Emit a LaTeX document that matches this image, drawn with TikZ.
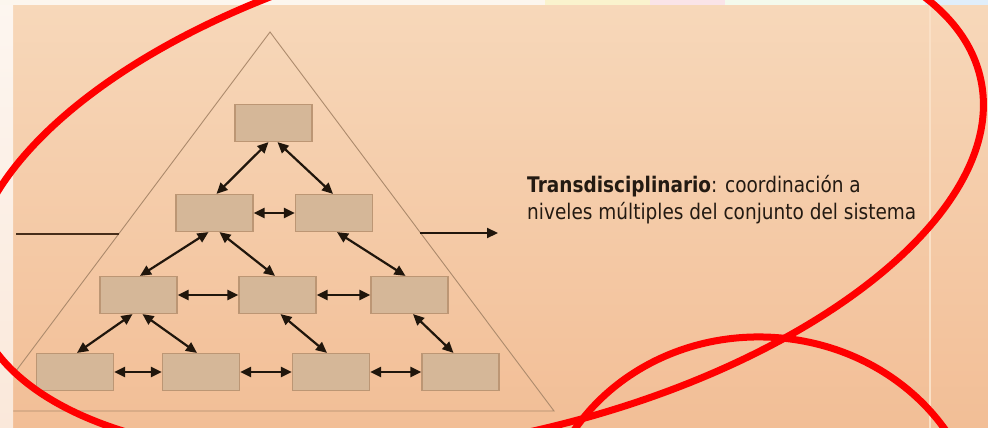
\documentclass[tikz,border=0pt]{standalone}
\usepackage{fontspec}
\newfontfamily\tfont[FakeStretch=0.86]{DejaVu Sans}
\usetikzlibrary{arrows.meta}
\definecolor{bgtop}{RGB}{247,216,186}
\definecolor{bgbot}{RGB}{242,190,150}
\definecolor{stripA}{RGB}{253,246,240}
\definecolor{stripB}{RGB}{250,232,218}
\definecolor{boxfill}{RGB}{213,183,152}
\definecolor{boxline}{RGB}{188,150,116}
\definecolor{triline}{RGB}{172,138,108}
\definecolor{arrowcol}{RGB}{32,22,12}
\definecolor{linecol}{RGB}{70,45,25}
\definecolor{txtcol}{RGB}{35,26,18}
\definecolor{annot}{RGB}{255,0,0}
\definecolor{topA}{RGB}{252,246,238}
\definecolor{topY}{RGB}{250,243,205}
\definecolor{topP}{RGB}{250,228,232}
\definecolor{topG}{RGB}{244,250,236}
\definecolor{topB}{RGB}{224,238,250}
\definecolor{seam}{RGB}{250,224,198}
\begin{document}
\begin{tikzpicture}[x=1pt,y=-1pt,
  box/.style={draw=boxline, fill=boxfill, line width=1.2pt, minimum width=77pt, minimum height=37pt, inner sep=0pt},
  link/.style={draw=arrowcol, line width=2.2pt, {Triangle[length=11pt,width=10pt]}-{Triangle[length=11pt,width=10pt]}},
  tri/.style={draw=triline, line width=0.9pt},
  redpen/.style={draw=annot, line width=7pt},
  txt/.style={text=txtcol, inner sep=0pt, anchor=base west, font=\tfont\fontsize{21.5}{26}\selectfont}
]
\useasboundingbox (0,0) rectangle (988,428);
% background
\shade[top color=bgtop, bottom color=bgbot] (0,0) rectangle (988,428);
\draw[seam, line width=1.5pt] (930,0) -- (930,428);
% triangle
\coordinate (apex) at (270,32);
\coordinate (bl) at (-14,411);
\coordinate (br) at (554,411);
\draw[tri] (apex) -- (br) -- (bl) -- cycle;
% left strip and top strip
\shade[top color=stripA, bottom color=stripB] (0,0) rectangle (13,428);
\fill[topA] (0,0) rectangle (545,5);
\fill[topY] (545,0) rectangle (650,5);
\fill[topP] (650,0) rectangle (725,5);
\fill[topG] (725,0) rectangle (925,5);
\fill[topB] (925,0) rectangle (988,5);
% boxes
\node[box] (T)  at (273.5,123) {};
\node[box] (A1) at (214.5,213) {};
\node[box] (A2) at (334,213) {};
\node[box] (B1) at (138.5,295) {};
\node[box] (B2) at (277.5,295) {};
\node[box] (B3) at (409.5,295) {};
\node[box] (C1) at (75,372) {};
\node[box] (C2) at (201,372) {};
\node[box] (C3) at (331,372) {};
\node[box] (C4) at (460.5,372) {};
% vertical links
\draw[link] ([xshift=-5pt]T.south) -- ([xshift=2pt]A1.north);
\draw[link] ([xshift=4pt]T.south) -- ([xshift=-1pt]A2.north);
\draw[link] ([xshift=-6pt]A1.south) -- ([xshift=1.5pt]B1.north);
\draw[link] ([xshift=5pt]A1.south) -- ([xshift=-2.5pt]B2.north);
\draw[link] ([xshift=3pt]A2.south) -- ([xshift=-4pt]B3.north);
\draw[link] ([xshift=-6pt]B1.south) -- ([xshift=2pt]C1.north);
\draw[link] ([xshift=4pt]B1.south) -- ([xshift=-4pt]C2.north);
\draw[link] ([xshift=3pt]B2.south) -- ([xshift=-4pt]C3.north);
\draw[link] ([xshift=3.5pt]B3.south) -- ([xshift=-7pt]C4.north);
% horizontal links
\draw[link] (A1.east) -- (A2.west);
\draw[link] (B1.east) -- (B2.west);
\draw[link] (B2.east) -- (B3.west);
\draw[link] (C1.east) -- (C2.west);
\draw[link] (C2.east) -- (C3.west);
\draw[link] (C3.east) -- (C4.west);
% side lines
\coordinate (L1) at (16,234);
\coordinate (L2) at (119,234);
\draw[linecol, line width=2.6pt] (L1) -- (L2);
\coordinate (R1) at (420,233);
\coordinate (R2) at (498,233);
\draw[arrowcol, line width=2.2pt, -{Triangle[length=11pt,width=10pt]}] (R1) -- (R2);
% text
\node[txt] (t1) at (527,192) {\textbf{Transdisciplinario}: coordinación a};
\node[txt] (t2) at (527,219) {niveles múltiples del conjunto del sistema};
% red annotations
\coordinate (E1) at (477,191);
\draw[redpen, rotate around={12.6:(E1)}] (E1) ellipse [x radius=516, y radius=246.5];
\coordinate (E2) at (761,538);
\draw[redpen, rotate around={-3:(E2)}] (E2) ellipse [x radius=220, y radius=201];
\end{tikzpicture}
\end{document}
